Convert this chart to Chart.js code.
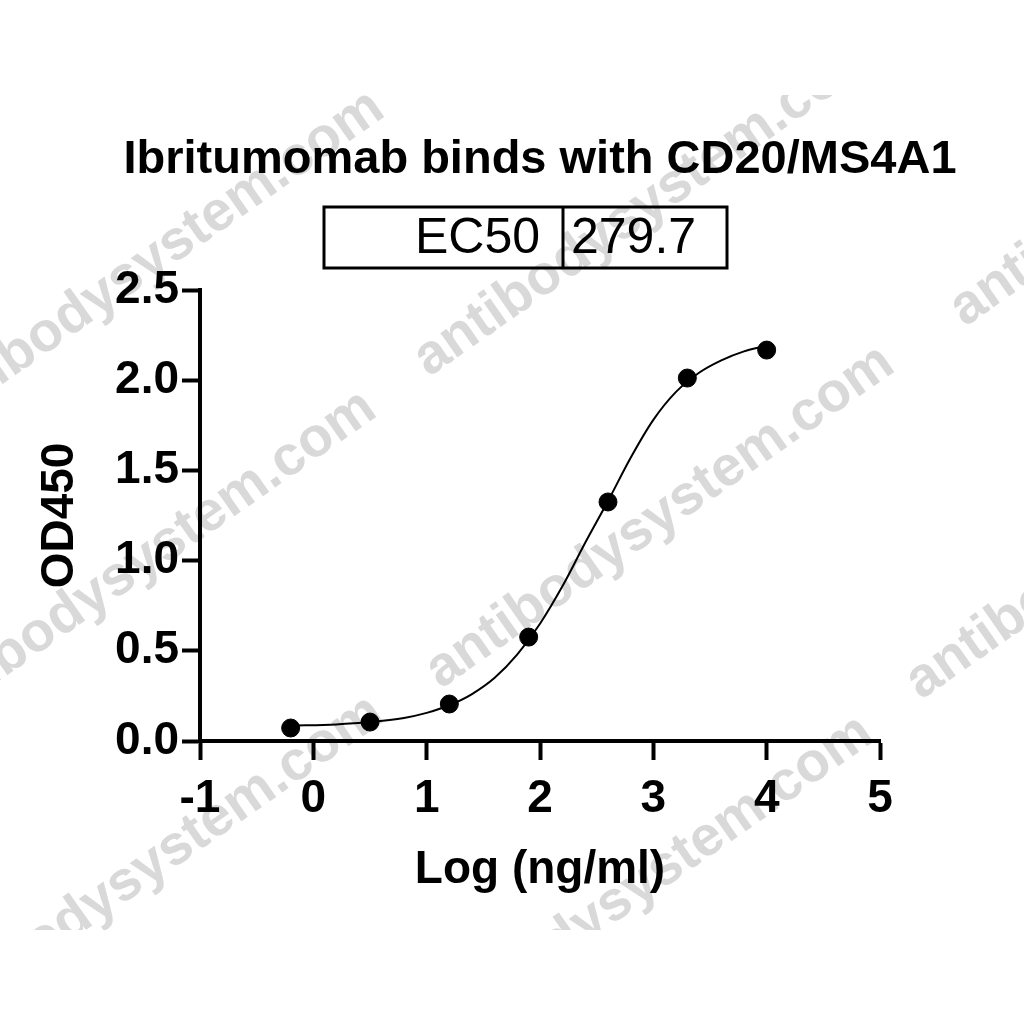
<!DOCTYPE html>
<html>
<head>
<meta charset="utf-8">
<script src="https://cdn.jsdelivr.net/npm/chart.js@4.4.1/dist/chart.umd.min.js"></script>
<style>
  html, body { margin: 0; padding: 0; background: #fff; }
  #wrap { width: 1024px; height: 1024px; position: relative; }
</style>
</head>
<body>
<div id="wrap"><canvas id="ec50Chart"></canvas></div>
<script>
// measured points (log ng/ml vs OD450)
const logConc = [-0.2, 0.5, 1.2, 1.9, 2.6, 3.3, 4.0];
const od450 = [0.072, 0.105, 0.205, 0.576, 1.325, 2.012, 2.167];

// fitted curve
const curveX = [-0.2, 0.2, 0.5, 0.8, 1.0, 1.2, 1.4, 1.6, 1.8, 2.0, 2.2, 2.4, 2.6, 2.8, 3.0, 3.2, 3.4, 3.6, 3.8, 4.0];
const curveY = [0.085, 0.092, 0.105, 0.128, 0.156, 0.198, 0.26, 0.35, 0.48, 0.65, 0.86, 1.10, 1.33, 1.57, 1.78, 1.935, 2.04, 2.11, 2.16, 2.19];

const xTicks = [-1, 0, 1, 2, 3, 4, 5];
const yTicks = [0.0, 0.5, 1.0, 1.5, 2.0, 2.5];

const chartTitle = 'Ibritumomab binds with CD20/MS4A1';
const ec50Label = 'EC50';
const ec50Value = '279.7';
const watermark = 'antibodysystem.com';

const FONT = "'Liberation Sans', Arial, sans-serif";

document.addEventListener('DOMContentLoaded', function() {
    const ctx = document.getElementById('ec50Chart').getContext('2d');

    // grey diagonal watermark behind everything
    const watermarkPlugin = {
        id: 'watermark',
        beforeDraw(chart) {
            const c = chart.ctx;
            const spots = [[150, 262], [142, 562], [149, 867], [648, 205], [660, 517], [639, 887], [1184, 155], [1140, 528]];
            c.save();
            c.beginPath();
            c.rect(0, 95, 1024, 835);
            c.clip();
            c.fillStyle = '#d9d9d9';
            c.font = 'bold 56px ' + FONT;
            c.textAlign = 'center';
            c.textBaseline = 'middle';
            spots.forEach(p => {
                c.save();
                c.translate(p[0], p[1]);
                c.rotate(-35 * Math.PI / 180);
                c.fillText(watermark, 0, 0);
                c.restore();
            });
            c.restore();
        }
    };

    // title and the EC50 box above the plot
    const headerPlugin = {
        id: 'header',
        afterDraw(chart) {
            const c = chart.ctx;
            c.save();
            c.fillStyle = '#000';
            c.font = 'bold 47px ' + FONT;
            c.textAlign = 'center';
            c.textBaseline = 'middle';
            c.fillText(chartTitle, 540, 160);

            c.strokeStyle = '#000';
            c.lineWidth = 3;
            c.strokeRect(324, 207, 403, 61);
            c.beginPath();
            c.moveTo(563, 207);
            c.lineTo(563, 268);
            c.stroke();

            c.font = '50px ' + FONT;
            c.textAlign = 'right';
            c.fillText(ec50Label, 540, 239);
            c.textAlign = 'left';
            c.fillText(ec50Value, 571, 239);
            c.restore();
        }
    };

    new Chart(ctx, {
        type: 'scatter',
        data: {
            datasets: [{
                label: 'fit',
                data: curveX.map((x, i) => ({ x: x, y: curveY[i] })),
                showLine: true,
                borderColor: '#000',
                borderWidth: 2,
                pointRadius: 0,
                cubicInterpolationMode: 'monotone',
                fill: false
            }, {
                label: 'OD450',
                data: logConc.map((x, i) => ({ x: x, y: od450[i] })),
                showLine: false,
                backgroundColor: '#000',
                borderColor: '#000',
                pointRadius: 9,
                pointHoverRadius: 9
            }]
        },
        options: {
            responsive: true,
            maintainAspectRatio: false,
            animation: false,
            layout: {
                padding: { top: 290, right: 144, left: 0, bottom: 0 }
            },
            plugins: {
                legend: { display: false },
                tooltip: { enabled: false },
                title: { display: false }
            },
            scales: {
                x: {
                    type: 'linear',
                    min: -1,
                    max: 5,
                    afterFit: function(scale) { scale.height = 283; },
                    afterBuildTicks: function(scale) { scale.ticks = xTicks.map(v => ({ value: v })); },
                    border: { display: true, color: '#000', width: 4 },
                    grid: {
                        drawOnChartArea: false,
                        drawTicks: true,
                        tickLength: 19,
                        tickWidth: 4,
                        tickColor: '#000'
                    },
                    ticks: {
                        color: '#000',
                        padding: 12,
                        maxRotation: 0,
                        font: { family: FONT, size: 46, weight: 'bold' },
                        callback: function(value) { return String(value); }
                    },
                    title: {
                        display: true,
                        text: 'Log (ng/ml)',
                        color: '#000',
                        font: { family: FONT, size: 46, weight: 'bold' },
                        padding: { top: 0, bottom: 126 }
                    }
                },
                y: {
                    type: 'linear',
                    min: 0,
                    max: 2.5,
                    afterFit: function(scale) { scale.width = 200; },
                    afterBuildTicks: function(scale) { scale.ticks = yTicks.map(v => ({ value: v })); },
                    border: { display: true, color: '#000', width: 4 },
                    grid: {
                        drawOnChartArea: false,
                        drawTicks: true,
                        tickLength: 18,
                        tickWidth: 4,
                        tickColor: '#000'
                    },
                    ticks: {
                        color: '#000',
                        padding: 3,
                        font: { family: FONT, size: 46, weight: 'bold' },
                        callback: function(value) { return value.toFixed(1); }
                    },
                    title: {
                        display: true,
                        text: 'OD450',
                        color: '#000',
                        font: { family: FONT, size: 46, weight: 'bold' },
                        padding: { top: 33, bottom: 0 }
                    }
                }
            }
        },
        plugins: [watermarkPlugin, headerPlugin]
    });
});
</script>
</body>
</html>
